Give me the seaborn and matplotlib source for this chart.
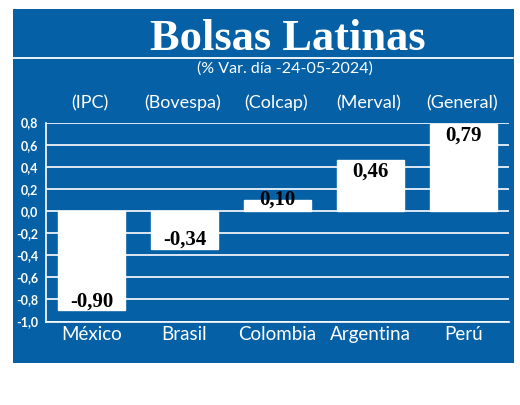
# Bolsas Latinas - daily % change bars
import matplotlib
matplotlib.use("Agg")
import matplotlib.pyplot as plt
from matplotlib.patches import Rectangle
import seaborn as sns
import pandas as pd

paises = ["México", "Brasil", "Colombia", "Argentina", "Perú"]
indices = ["(IPC)", "(Bovespa)", "(Colcap)", "(Merval)", "(General)"]
variacion = [-0.90, -0.34, 0.10, 0.46, 0.79]
etiquetas = ["-0,90", "-0,34", "0,10", "0,46", "0,79"]
yticks = [0.8, 0.6, 0.4, 0.2, 0.0, -0.2, -0.4, -0.6, -0.8, -1.0]

AZUL = "#0560a6"
W, H = 520, 405

sns.set_theme(style="white")
plt.rcParams["font.family"] = ["Lato", "DejaVu Sans"]

df = pd.DataFrame({"pais": paises, "var": variacion})

fig = plt.figure(figsize=(W / 100, H / 100), dpi=100, facecolor="white")
fig.add_artist(Rectangle((13 / W, 1 - 363 / H), 500.5 / W, 354 / H, transform=fig.transFigure,
                         facecolor=AZUL, edgecolor="none", zorder=-1))
fig.add_artist(plt.Line2D([13 / W, 513 / W], [1 - 57.5 / H] * 2, color="white", lw=1.3))

ax = fig.add_axes([45.5 / W, 1 - 321.5 / H, 463.5 / W, 199 / H])
ax.patch.set_alpha(0)
sns.barplot(data=df, x="pais", y="var", color="white", saturation=1, width=0.72, ax=ax, zorder=3)

ax.set_xlim(-0.495, 4.49)
ax.set_ylim(-1.0, 0.8)
ax.set_yticks(yticks)
ax.set_yticklabels([f"{t:.1f}".replace(".", ",") for t in yticks], color="white", fontsize=9, fontweight="bold")
ax.tick_params(axis="y", length=0, pad=5)
ax.tick_params(axis="x", length=0, pad=3)
ax.set_xticks(range(len(paises)))
ax.set_xticklabels(paises, color="white", fontsize=13.5)
ax.set_xlabel("")
ax.set_ylabel("")
ax.grid(axis="y", color="white", lw=1.2, zorder=1)
ax.set_axisbelow(True)
for s in ["top", "right"]:
    ax.spines[s].set_visible(False)
for s in ["left", "bottom"]:
    ax.spines[s].set_color("white")
    ax.spines[s].set_linewidth(1.2)

# value labels sit inside the bar end, the small one straddles the bar top
for i, (v, txt) in enumerate(zip(variacion, etiquetas)):
    if v < 0:
        y, va = v - 0.01, "bottom"
    elif v < 0.2:
        y, va = v, "center"
    else:
        y, va = v - 0.015, "top"
    ax.text(i, y, txt, ha="center", va=va, color="black", fontsize=15,
            fontweight="bold", family="Liberation Serif", zorder=5)

for i, txt in enumerate(indices):
    ax.annotate(txt, (i - 0.02, 0.8), xytext=(0, 8), textcoords="offset points", ha="center", va="bottom",
                color="white", fontsize=13, annotation_clip=False)

fig.text(288 / W, 1 - 39 / H, "Bolsas Latinas", color="white", fontsize=32, fontweight="bold",
         family="Liberation Serif", ha="center", va="center")
fig.text(285 / W, 1 - 69 / H, "(% Var. día -24-05-2024)", color="white", fontsize=11.5, ha="center", va="center")

fig.savefig("out.png", dpi=100, facecolor="white")
